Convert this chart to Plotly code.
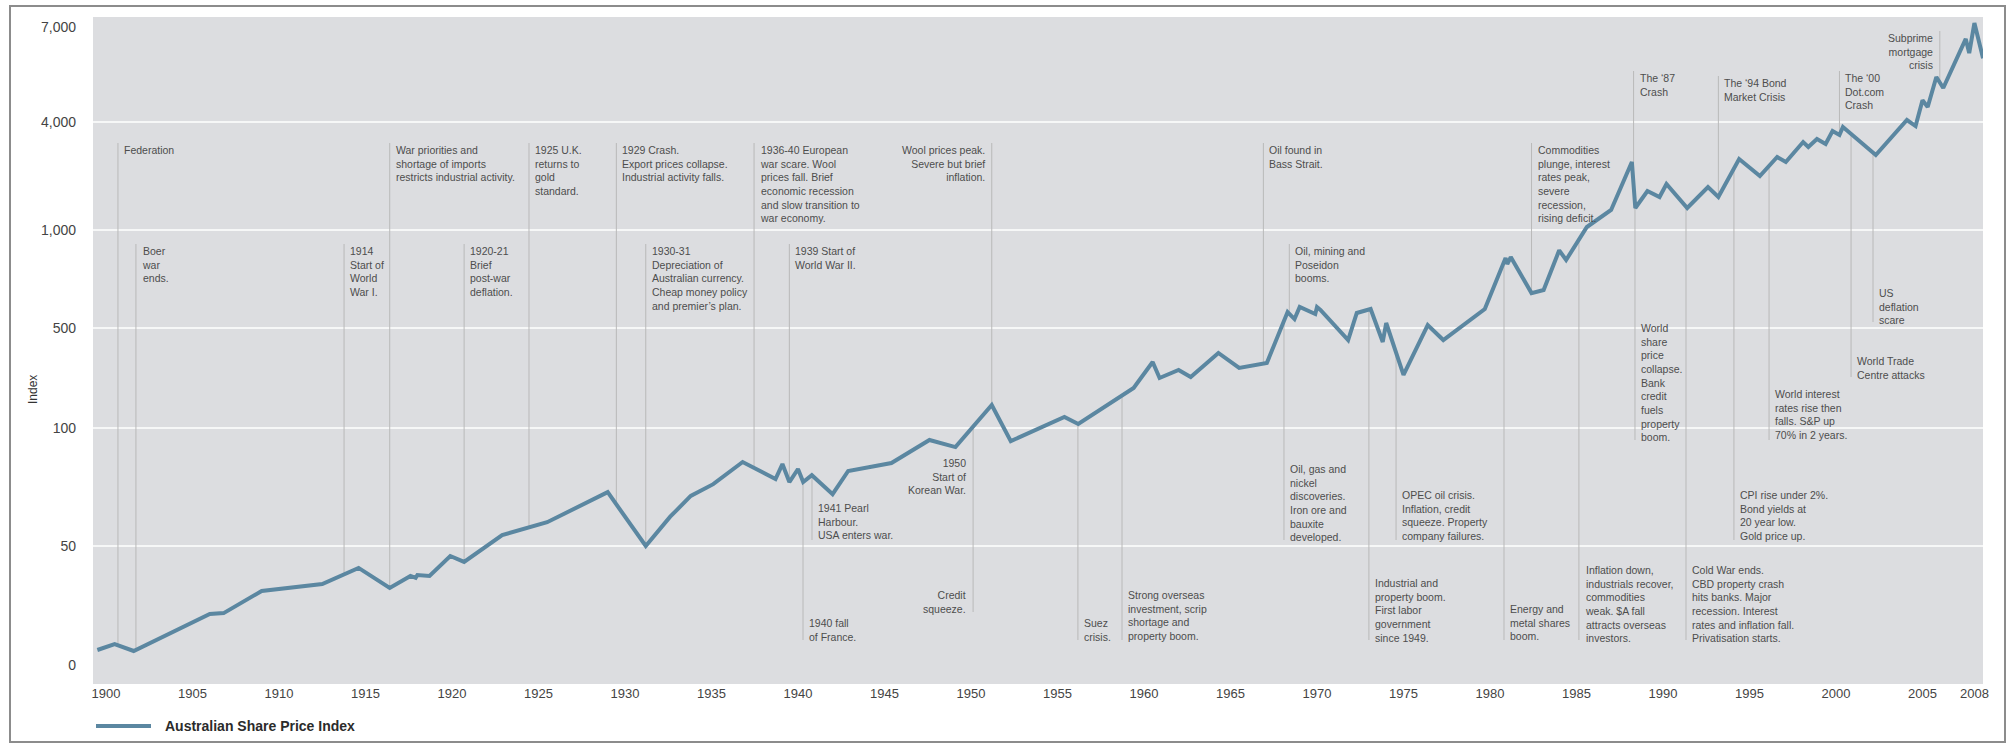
import numpy as np
import plotly.graph_objects as go

# ---------------- data ----------------
years = [1899.5, 1900.5, 1901.6, 1906.0, 1906.8, 1909.0, 1912.5, 1914.6, 1916.4, 1917.6,
         1917.9, 1918.0, 1918.7, 1919.9, 1920.7, 1922.9, 1925.5, 1929.0, 1931.2, 1932.6,
         1933.8, 1935.1, 1936.8, 1938.7, 1939.1, 1939.5, 1940.0, 1940.3, 1940.8, 1942.0,
         1942.9, 1945.4, 1947.6, 1949.1, 1951.2, 1952.3, 1955.4, 1956.2, 1959.4, 1960.5,
         1960.9, 1962.0, 1962.7, 1964.3, 1965.5, 1967.1, 1968.3, 1968.7, 1969.0, 1969.9,
         1970.0, 1970.2, 1971.8, 1972.3, 1973.1, 1973.8, 1974.0, 1975.0, 1976.4, 1977.3,
         1979.7, 1980.9, 1981.0, 1981.2, 1982.4, 1983.1, 1984.0, 1984.4, 1985.6, 1987.0,
         1988.2, 1988.4, 1989.1, 1989.8, 1990.2, 1991.4, 1992.6, 1993.2, 1994.4, 1995.6,
         1996.6, 1997.1, 1998.1, 1998.4, 1998.9, 1999.4, 1999.8, 2000.2, 2000.4, 2002.3,
         2004.1, 2004.6, 2005.0, 2005.3, 2005.8, 2006.2, 2007.5, 2007.7, 2008.0, 2008.5]
index_values = [6.3, 8.8, 5.9, 21.4, 21.8, 31.1, 34.0, 40.8, 32.4, 37.4,
                36.6, 37.8, 37.4, 45.8, 43.3, 53.3, 57.5, 68.6, 50.0, 59.3,
                67.1, 71.9, 81.9, 74.1, 80.9, 72.8, 78.6, 72.8, 75.8, 67.8,
                77.7, 81.4, 93.2, 89.4, 144.8, 92.6, 119.4, 106.6, 190.4, 289.5,
                223.6, 254.3, 227.3, 334.4, 262.7, 284.5, 559.9, 532.6, 580.2, 552.0,
                580.0, 567.9, 412.0, 556.0, 572.0, 399.2, 518.0, 234.9, 510.7, 412.0,
                572.0, 820.0, 786.0, 826.0, 640.0, 654.0, 866.0, 809.0, 1039, 1293,
                2394, 1326, 1650, 1527, 1805, 1326, 1737, 1527, 2488, 2000,
                2552, 2394, 3093, 2902, 3215, 3017, 3565, 3386, 3753, 2618,
                4047, 3796, 4545, 4368, 5216, 4888, 6524, 6002, 7165, 5826]

y_tick_values = [0, 50, 100, 500, 1000, 4000, 7000]
y_tick_labels = ["0", "50", "100", "500", "1,000", "4,000", "7,000"]
x_tick_values = [1900, 1905, 1910, 1915, 1920, 1925, 1930, 1935, 1940, 1945, 1950,
                 1955, 1960, 1965, 1970, 1975, 1980, 1985, 1990, 1995, 2000, 2005, 2008]
x_tick_labels = [str(v) for v in x_tick_values]

event_labels = [
    "Federation",
    "Boer<br>war<br>ends.",
    "1914<br>Start of<br>World<br>War I.",
    "War priorities and<br>shortage of imports<br>restricts industrial activity.",
    "1920-21<br>Brief<br>post-war<br>deflation.",
    "1925 U.K.<br>returns to<br>gold<br>standard.",
    "1929 Crash.<br>Export prices collapse.<br>Industrial activity falls.",
    "1930-31<br>Depreciation of<br>Australian currency.<br>Cheap money policy<br>and premier’s plan.",
    "1936-40 European<br>war scare. Wool<br>prices fall. Brief<br>economic recession<br>and slow transition to<br>war economy.",
    "1939 Start of<br>World War II.",
    "Wool prices peak.<br>Severe but brief<br>inflation.",
    "Oil found in<br>Bass Strait.",
    "Oil, mining and<br>Poseidon<br>booms.",
    "Commodities<br>plunge, interest<br>rates peak,<br>severe<br>recession,<br>rising deficit.",
    "The ‘87<br>Crash",
    "The ‘94 Bond<br>Market Crisis",
    "The ‘00<br>Dot.com<br>Crash",
    "Subprime<br>mortgage<br>crisis",
    "1941 Pearl<br>Harbour.<br>USA enters war.",
    "1940 fall<br>of France.",
    "1950<br>Start of<br>Korean War.",
    "Credit<br>squeeze.",
    "Suez<br>crisis.",
    "Strong overseas<br>investment, scrip<br>shortage and<br>property boom.",
    "Oil, gas and<br>nickel<br>discoveries.<br>Iron ore and<br>bauxite<br>developed.",
    "Industrial and<br>property boom.<br>First labor<br>government<br>since 1949.",
    "OPEC oil crisis.<br>Inflation, credit<br>squeeze. Property<br>company failures.",
    "Energy and<br>metal shares<br>boom.",
    "Inflation down,<br>industrials recover,<br>commodities<br>weak. $A fall<br>attracts overseas<br>investors.",
    "World<br>share<br>price<br>collapse.<br>Bank<br>credit<br>fuels<br>property<br>boom.",
    "Cold War ends.<br>CBD property crash<br>hits banks. Major<br>recession. Interest<br>rates and inflation fall.<br>Privatisation starts.",
    "CPI rise under 2%.<br>Bond yields at<br>20 year low.<br>Gold price up.",
    "World interest<br>rates rise then<br>falls. S&amp;P up<br>70% in 2 years.",
    "World Trade<br>Centre attacks",
    "US<br>deflation<br>scare",
]
event_years = [1900.69, 1901.73, 1913.76, 1916.4, 1920.7, 1924.45, 1929.5, 1931.2, 1937.46, 1939.5,
               1951.2, 1966.9, 1968.4, 1982.4, 1988.3, 1993.2, 2000.2, 2006.0,
               1940.81, 1940.29, 1950.12, 1950.12, 1956.18, 1958.73, 1968.09, 1973.0, 1974.57,
               1980.81, 1985.14, 1988.38, 1991.33, 1994.1, 1996.13, 2000.87, 2002.14]

# ---------------- layout / style ----------------
W, H = 2007, 744
ML, MR, MT, MB = 93, 24, 17, 60
PW, PH = W - ML - MR, H - MT - MB
ZERO_PX = 665                     # pixel row of the zero line
# vertical positions (px above the zero line) of the y-axis breakpoints
y_tick_pos = [0, 119, 237, 337, 435, 543, 638]

# text-top pixel row, connector end pixel row, side of text relative to connector
event_text_top = [143, 244, 244, 143, 244, 143, 143, 244, 143, 244,
                  143, 143, 244, 143, 71, 76, 71, 31,
                  501, 616, 456, 588, 616, 588, 462, 576, 488,
                  602, 563, 321, 563, 488, 387, 354, 286]
event_line_end = [143, 244, 244, 143, 244, 143, 143, 244, 143, 244,
                  143, 143, 244, 143, 71, 76, 71, 31,
                  540, 640, None, 612, 640, 640, 540, 640, 540,
                  640, 640, 440, 640, 540, 440, 377, 322]
event_side = ["r"] * 10 + ["l"] + ["r"] * 6 + ["l"] + ["r", "r", "l", "l"] + ["r"] * 13

LINE_COLOR = "#5b87a1"
TEXT_COLOR = "#4d4d4d"
CONN_COLOR = "#b9b9b9"
FONT = "Liberation Sans, Arial, sans-serif"


def to_scale(v):
    """Piecewise scale of the chart: linear 0-50, logarithmic between the later breakpoints."""
    v = np.atleast_1d(np.asarray(v, dtype=float))
    out = np.empty_like(v)
    for k, x in enumerate(v):
        if x <= y_tick_values[1]:
            out[k] = x / y_tick_values[1] * y_tick_pos[1]
            continue
        i = int(np.searchsorted(y_tick_values, x)) - 1
        i = min(max(i, 1), len(y_tick_values) - 2)
        t0, t1 = y_tick_values[i], y_tick_values[i + 1]
        u0, u1 = y_tick_pos[i], y_tick_pos[i + 1]
        out[k] = u0 + (u1 - u0) * np.log(x / t0) / np.log(t1 / t0)
    return out


def px_to_u(py):
    return ZERO_PX - py


def xpaper(px):
    return (px - ML) / PW


def ypaper(py):
    return (H - MB - py) / PH


year_lo = 1900 + (ML - 106) / 17.3
year_hi = 1900 + (W - MR - 106) / 17.3

u_line = to_scale(index_values)

fig = go.Figure()
fig.add_trace(go.Scatter(x=years, y=u_line, mode="lines",
                         line=dict(color=LINE_COLOR, width=4),
                         name="Australian Share Price Index",
                         hoverinfo="skip", showlegend=False))

shapes = []
# grid lines
for v, u in zip(y_tick_values, y_tick_pos):
    if v in (0, 7000):
        continue
    shapes.append(dict(type="line", xref="paper", yref="y", x0=0, x1=1,
                       y0=to_scale(v)[0], y1=to_scale(v)[0],
                       line=dict(color="white", width=1.6), layer="below"))

annotations = []
for lab, yr, top, end, side in zip(event_labels, event_years, event_text_top,
                                    event_line_end, event_side):
    u_data = float(np.interp(yr, years, u_line))
    if end is not None:
        shapes.append(dict(type="line", xref="x", yref="y", x0=yr, x1=yr,
                           y0=u_data, y1=px_to_u(end),
                           line=dict(color=CONN_COLOR, width=1), layer="below"))
    annotations.append(dict(x=yr, y=px_to_u(top), xref="x", yref="y",
                            text=lab, showarrow=False,
                            xanchor="left" if side == "r" else "right",
                            yanchor="top", align="left" if side == "r" else "right",
                            xshift=5 if side == "r" else -6, borderpad=0,
                            font=dict(family=FONT, size=10.5, color=TEXT_COLOR)))

# y axis title
annotations.append(dict(x=xpaper(33), y=ypaper(390), xref="paper", yref="paper",
                        xanchor="center", yanchor="middle",
                        text="Index", textangle=-90, showarrow=False,
                        font=dict(family=FONT, size=12, color="#333333")))

# legend (line sample + bold label)
shapes.append(dict(type="line", xref="paper", yref="paper",
                   x0=xpaper(96), x1=xpaper(151), y0=ypaper(726), y1=ypaper(726),
                   line=dict(color=LINE_COLOR, width=4)))
annotations.append(dict(x=xpaper(163), y=ypaper(726), xref="paper", yref="paper",
                        text="<b>Australian Share Price Index</b>", showarrow=False,
                        xanchor="left", yanchor="middle",
                        font=dict(family=FONT, size=14, color="#2b2b2b")))

# outer frame
shapes.append(dict(type="rect", xref="paper", yref="paper",
                   x0=xpaper(10), x1=xpaper(2005), y0=ypaper(742), y1=ypaper(6),
                   line=dict(color="#8c8c8c", width=2), layer="below"))

fig.update_layout(
    width=W, height=H,
    margin=dict(l=ML, r=MR, t=MT, b=MB, autoexpand=False),
    paper_bgcolor="white", plot_bgcolor="#dcdde0",
    font=dict(family=FONT, color="#444444"),
    shapes=shapes, annotations=annotations, showlegend=False,
    xaxis=dict(range=[year_lo, year_hi], tickvals=x_tick_values, ticktext=x_tick_labels,
               showgrid=False, zeroline=False, showline=False, ticks="",
               tickfont=dict(family=FONT, size=13, color="#444444")),
    yaxis=dict(range=[px_to_u(H - MB), px_to_u(MT)], tickvals=y_tick_pos,
               ticktext=y_tick_labels, showgrid=False, zeroline=False, showline=False,
               ticks="", ticklabelstandoff=16,
               tickfont=dict(family=FONT, size=14, color="#444444")),
)

# remove the browser's default page margin so the figure sits at the window origin
fig.write_html("out.html", config={"displayModeBar": False},
               post_script="document.body.style.margin='0';document.body.style.overflow='hidden';")
